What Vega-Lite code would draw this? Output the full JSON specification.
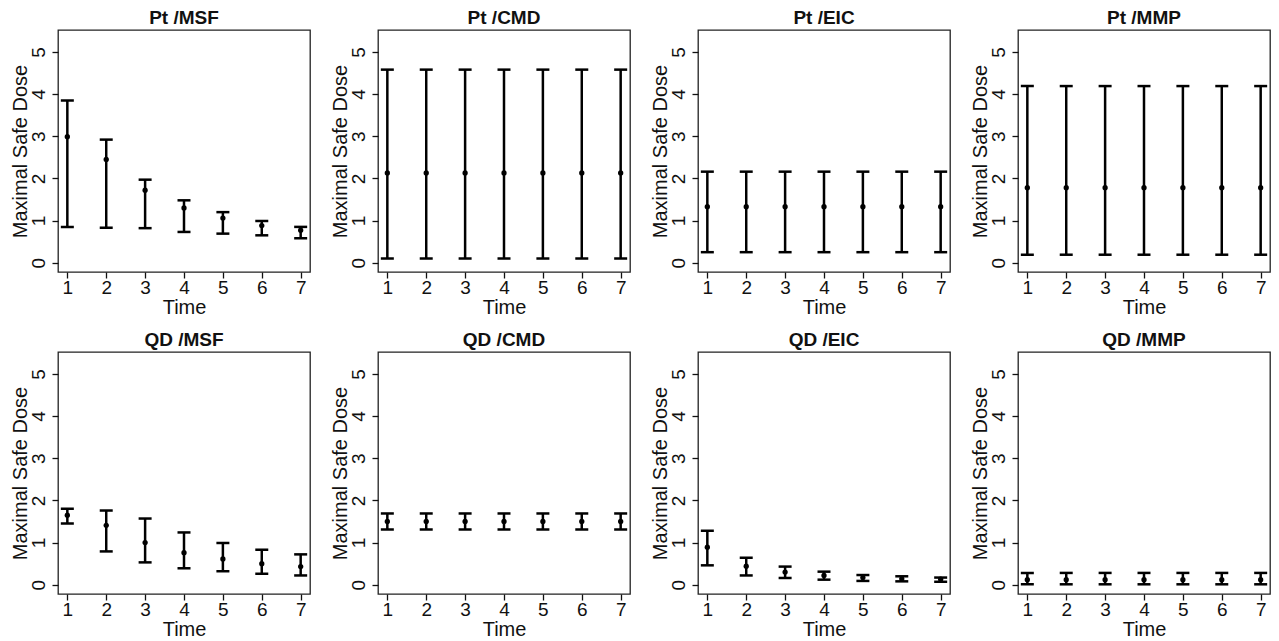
{
  "$schema": "https://vega.github.io/schema/vega-lite/v6.json",
  "background": "white",
  "padding": {"left": 9, "top": 8, "right": 2, "bottom": 2},
  "config": {
    "font": "Liberation Sans",
    "view": {"stroke": "#222222", "strokeWidth": 1.3},
    "axis": {"grid": false, "domain": false, "tickColor": "#111111", "tickSize": 6, "tickWidth": 1.3,
             "labelFontSize": 19, "labelColor": "#111111", "titleFontSize": 20, "titleFontWeight": "normal", "titleColor": "#111111"}
  },
  "data": {"values": [
    {"panel": "Pt /MSF", "time": 1, "mean": 2.99, "lo": 0.85, "hi": 3.85},
    {"panel": "Pt /MSF", "time": 2, "mean": 2.45, "lo": 0.83, "hi": 2.92},
    {"panel": "Pt /MSF", "time": 3, "mean": 1.72, "lo": 0.82, "hi": 1.97},
    {"panel": "Pt /MSF", "time": 4, "mean": 1.30, "lo": 0.73, "hi": 1.48},
    {"panel": "Pt /MSF", "time": 5, "mean": 1.06, "lo": 0.69, "hi": 1.20},
    {"panel": "Pt /MSF", "time": 6, "mean": 0.88, "lo": 0.65, "hi": 0.99},
    {"panel": "Pt /MSF", "time": 7, "mean": 0.77, "lo": 0.58, "hi": 0.85},
    {"panel": "Pt /CMD", "time": 1, "mean": 2.13, "lo": 0.10, "hi": 4.58},
    {"panel": "Pt /CMD", "time": 2, "mean": 2.13, "lo": 0.10, "hi": 4.58},
    {"panel": "Pt /CMD", "time": 3, "mean": 2.13, "lo": 0.10, "hi": 4.58},
    {"panel": "Pt /CMD", "time": 4, "mean": 2.13, "lo": 0.10, "hi": 4.58},
    {"panel": "Pt /CMD", "time": 5, "mean": 2.13, "lo": 0.10, "hi": 4.58},
    {"panel": "Pt /CMD", "time": 6, "mean": 2.13, "lo": 0.10, "hi": 4.58},
    {"panel": "Pt /CMD", "time": 7, "mean": 2.13, "lo": 0.10, "hi": 4.58},
    {"panel": "Pt /EIC", "time": 1, "mean": 1.33, "lo": 0.25, "hi": 2.16},
    {"panel": "Pt /EIC", "time": 2, "mean": 1.33, "lo": 0.25, "hi": 2.16},
    {"panel": "Pt /EIC", "time": 3, "mean": 1.33, "lo": 0.25, "hi": 2.16},
    {"panel": "Pt /EIC", "time": 4, "mean": 1.33, "lo": 0.25, "hi": 2.16},
    {"panel": "Pt /EIC", "time": 5, "mean": 1.33, "lo": 0.25, "hi": 2.16},
    {"panel": "Pt /EIC", "time": 6, "mean": 1.33, "lo": 0.25, "hi": 2.16},
    {"panel": "Pt /EIC", "time": 7, "mean": 1.33, "lo": 0.25, "hi": 2.16},
    {"panel": "Pt /MMP", "time": 1, "mean": 1.78, "lo": 0.19, "hi": 4.19},
    {"panel": "Pt /MMP", "time": 2, "mean": 1.78, "lo": 0.19, "hi": 4.19},
    {"panel": "Pt /MMP", "time": 3, "mean": 1.78, "lo": 0.19, "hi": 4.19},
    {"panel": "Pt /MMP", "time": 4, "mean": 1.78, "lo": 0.19, "hi": 4.19},
    {"panel": "Pt /MMP", "time": 5, "mean": 1.78, "lo": 0.19, "hi": 4.19},
    {"panel": "Pt /MMP", "time": 6, "mean": 1.78, "lo": 0.19, "hi": 4.19},
    {"panel": "Pt /MMP", "time": 7, "mean": 1.78, "lo": 0.19, "hi": 4.19},
    {"panel": "QD /MSF", "time": 1, "mean": 1.65, "lo": 1.45, "hi": 1.80},
    {"panel": "QD /MSF", "time": 2, "mean": 1.41, "lo": 0.79, "hi": 1.76},
    {"panel": "QD /MSF", "time": 3, "mean": 1.00, "lo": 0.53, "hi": 1.57},
    {"panel": "QD /MSF", "time": 4, "mean": 0.76, "lo": 0.39, "hi": 1.24},
    {"panel": "QD /MSF", "time": 5, "mean": 0.61, "lo": 0.32, "hi": 0.99},
    {"panel": "QD /MSF", "time": 6, "mean": 0.50, "lo": 0.26, "hi": 0.83},
    {"panel": "QD /MSF", "time": 7, "mean": 0.43, "lo": 0.22, "hi": 0.72},
    {"panel": "QD /CMD", "time": 1, "mean": 1.50, "lo": 1.31, "hi": 1.69},
    {"panel": "QD /CMD", "time": 2, "mean": 1.50, "lo": 1.31, "hi": 1.69},
    {"panel": "QD /CMD", "time": 3, "mean": 1.50, "lo": 1.31, "hi": 1.69},
    {"panel": "QD /CMD", "time": 4, "mean": 1.50, "lo": 1.31, "hi": 1.69},
    {"panel": "QD /CMD", "time": 5, "mean": 1.50, "lo": 1.31, "hi": 1.69},
    {"panel": "QD /CMD", "time": 6, "mean": 1.50, "lo": 1.31, "hi": 1.69},
    {"panel": "QD /CMD", "time": 7, "mean": 1.50, "lo": 1.31, "hi": 1.69},
    {"panel": "QD /EIC", "time": 1, "mean": 0.89, "lo": 0.46, "hi": 1.28},
    {"panel": "QD /EIC", "time": 2, "mean": 0.44, "lo": 0.22, "hi": 0.64},
    {"panel": "QD /EIC", "time": 3, "mean": 0.30, "lo": 0.16, "hi": 0.43},
    {"panel": "QD /EIC", "time": 4, "mean": 0.22, "lo": 0.12, "hi": 0.31},
    {"panel": "QD /EIC", "time": 5, "mean": 0.17, "lo": 0.09, "hi": 0.23},
    {"panel": "QD /EIC", "time": 6, "mean": 0.14, "lo": 0.08, "hi": 0.20},
    {"panel": "QD /EIC", "time": 7, "mean": 0.13, "lo": 0.07, "hi": 0.17},
    {"panel": "QD /MMP", "time": 1, "mean": 0.12, "lo": 0.01, "hi": 0.28},
    {"panel": "QD /MMP", "time": 2, "mean": 0.12, "lo": 0.01, "hi": 0.28},
    {"panel": "QD /MMP", "time": 3, "mean": 0.12, "lo": 0.01, "hi": 0.28},
    {"panel": "QD /MMP", "time": 4, "mean": 0.12, "lo": 0.01, "hi": 0.28},
    {"panel": "QD /MMP", "time": 5, "mean": 0.12, "lo": 0.01, "hi": 0.28},
    {"panel": "QD /MMP", "time": 6, "mean": 0.12, "lo": 0.01, "hi": 0.28},
    {"panel": "QD /MMP", "time": 7, "mean": 0.12, "lo": 0.01, "hi": 0.28}
  ]},
  "facet": {
    "field": "panel", "type": "nominal",
    "sort": ["Pt /MSF", "Pt /CMD", "Pt /EIC", "Pt /MMP", "QD /MSF", "QD /CMD", "QD /EIC", "QD /MMP"],
    "header": {"title": null, "labelFontSize": 19, "labelFontWeight": "bold", "labelColor": "#111111", "labelPadding": 2}
  },
  "columns": 4,
  "spacing": {"column": 18, "row": 12},
  "resolve": {"axis": {"x": "independent", "y": "independent"}},
  "spec": {
    "width": 252,
    "height": 242,
    "encoding": {
      "x": {"field": "time", "type": "quantitative",
            "scale": {"domain": [0.76, 7.24], "nice": false, "zero": false},
            "axis": {"title": "Time", "values": [1, 2, 3, 4, 5, 6, 7], "format": "d", "labelPadding": 0, "titlePadding": 0}}
    },
    "layer": [
      {
        "mark": {"type": "rule", "strokeWidth": 2.5, "color": "#000000"},
        "encoding": {
          "y": {"field": "lo", "type": "quantitative",
                "scale": {"domain": [-0.22, 5.52], "nice": false, "zero": false},
                "axis": {"title": "Maximal Safe Dose", "values": [0, 1, 2, 3, 4, 5], "labelAngle": -90, "labelAlign": "center", "labelBaseline": "bottom", "labelPadding": 4, "titlePadding": -1}},
          "y2": {"field": "hi"}
        }
      },
      {
        "mark": {"type": "tick", "orient": "horizontal", "size": 13, "thickness": 2.5, "color": "#000000", "opacity": 1},
        "encoding": {"y": {"field": "lo", "type": "quantitative"}}
      },
      {
        "mark": {"type": "tick", "orient": "horizontal", "size": 13, "thickness": 2.5, "color": "#000000", "opacity": 1},
        "encoding": {"y": {"field": "hi", "type": "quantitative"}}
      },
      {
        "mark": {"type": "point", "filled": true, "size": 28, "color": "#000000", "opacity": 1},
        "encoding": {"y": {"field": "mean", "type": "quantitative"}}
      }
    ]
  }
}
